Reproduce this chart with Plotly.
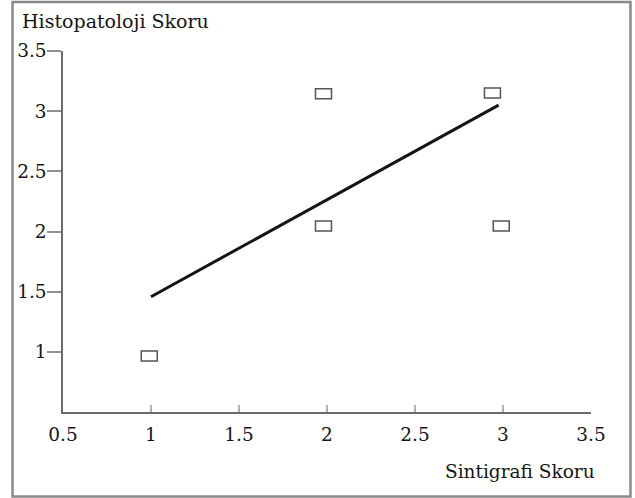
import plotly.graph_objects as go

# Data
point_x = [0.99, 1.98, 1.98, 2.94, 2.99]
point_y = [0.965, 3.145, 2.045, 3.15, 2.045]
fit_x = [1.0, 2.975]
fit_y = [1.458, 3.05]
tick_vals = [0.5, 1, 1.5, 2, 2.5, 3, 3.5]
tick_text = ["0.5", "1", "1.5", "2", "2.5", "3", "3.5"]
x_title = "Sintigrafi Skoru"
y_title = "Histopatoloji Skoru"

W, H = 635, 498
# plot area in page pixels: x 63..591.5, y 51..412
L = 63
T = 51
R = W - 591.5
B = H - 412
PW, PH = W - L - R, H - T - B

def px_x(p):  # page pixel -> paper x
    return (p - L) / PW

def px_y(p):  # page pixel -> paper y
    return (H - B - p) / PH

FONT = "DejaVu Serif"
TXT = "#151515"
GREY = "#8a8a8a"
FS = 19
TFS = 18.5

fig = go.Figure()

fig.add_trace(go.Scatter(
    x=fit_x, y=fit_y, mode="lines",
    line=dict(color="#151515", width=3),
    hoverinfo="skip", showlegend=False,
))
fig.add_trace(go.Scatter(
    x=point_x, y=point_y, mode="markers",
    marker=dict(size=1, opacity=0),
    showlegend=False,
))

shapes = []
# rectangle markers anchored at the data values
for xv, yv in zip(point_x, point_y):
    shapes.append(dict(
        type="rect", xref="x", yref="y",
        xsizemode="pixel", ysizemode="pixel",
        xanchor=xv, yanchor=yv,
        x0=-8, x1=8, y0=-5, y1=5,
        line=dict(color="#555555", width=1.5),
        fillcolor="white", layer="above",
    ))
# small extension of x axis line to the left of the y axis
shapes.append(dict(
    type="line", xref="x", yref="y",
    xsizemode="pixel", xanchor=tick_vals[0],
    x0=-14, x1=0, y0=tick_vals[0], y1=tick_vals[0],
    line=dict(color="#6a6a6a", width=2),
))
# outer frame
shapes.append(dict(
    type="rect", xref="paper", yref="paper",
    x0=px_x(12.5), x1=px_x(631), y0=px_y(496.5), y1=px_y(2),
    line=dict(color=GREY, width=2.5), fillcolor="rgba(0,0,0,0)",
    layer="below",
))

fig.update_layout(
    width=W, height=H,
    margin=dict(l=L, r=R, t=T, b=B, autoexpand=False),
    paper_bgcolor="white", plot_bgcolor="white",
    font=dict(family=FONT, size=FS, color=TXT),
    shapes=shapes,
    showlegend=False,
    annotations=[
        dict(text=y_title, xref="paper", yref="paper",
             x=px_x(20), y=px_y(21), xanchor="left", yanchor="middle",
             showarrow=False, font=dict(family=FONT, size=FS, color=TXT)),
        dict(text=x_title, xref="paper", yref="paper",
             x=px_x(598), y=px_y(471), xanchor="right", yanchor="middle",
             showarrow=False, font=dict(family=FONT, size=FS - 0.5, color=TXT)),
    ],
)

fig.update_xaxes(
    range=[0.5, 3.5], tickvals=tick_vals, ticktext=tick_text,
    showgrid=False, zeroline=False, automargin=False,
    showline=True, linecolor="#6a6a6a", linewidth=2,
    ticks="inside", ticklen=7, tickcolor="#b0b0b0", tickwidth=1.5,
    ticklabelstandoff=5,
    tickfont=dict(family=FONT, size=TFS, color=TXT),
)
fig.update_yaxes(
    range=[0.5, 3.5], tickvals=tick_vals[1:], ticktext=tick_text[1:],
    showgrid=False, zeroline=False, automargin=False,
    showline=True, linecolor="#6a6a6a", linewidth=1.5,
    ticks="outside", ticklen=14, tickcolor="#8f8f8f", tickwidth=1.5,
    ticklabelstandoff=-3,
    tickfont=dict(family=FONT, size=TFS, color=TXT),
)

fig.write_html(
    "out.html",
    config={"displayModeBar": False},
    post_script="document.body.style.margin='0';",
)
